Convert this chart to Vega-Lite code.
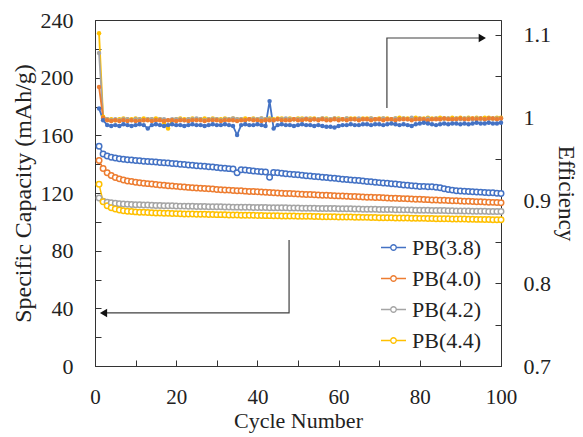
{
"$schema":"https://vega.github.io/schema/vega-lite/v6.json",
"width":406,"height":346,"autosize":{"type":"none"},
"padding":{"left":95,"top":20,"right":82,"bottom":71},
"background":"white",
"config":{"font":"Liberation Serif","view":{"stroke":"#333","strokeWidth":1},
"axis":{"grid":false,"domainColor":"#333","tickColor":"#333","labelColor":"#222","titleColor":"#222","labelFontSize":22,"titleFontSize":22,"titleFontWeight":"normal","labelFont":"Liberation Serif","titleFont":"Liberation Serif","tickSize":-6,"labelPadding":28,"labelOverlap":false,"labelBound":false,"labelFlush":false}},
"datasets":{
"d":[
{"c":1,"a1":152.5,"a2":142.5,"a3":116.5,"a4":126.0,"e1":1.011,"e2":1.037,"e3":1.078,"e4":1.102},
{"c":2,"a1":147.0,"a2":137.0,"a3":114.3,"a4":114.0,"e1":0.997,"e2":1.000,"e3":0.999,"e4":1.001},
{"c":3,"a1":145.6,"a2":134.0,"a3":113.6,"a4":111.2,"e1":0.991,"e2":0.997,"e3":0.998,"e4":0.998},
{"c":4,"a1":144.8,"a2":132.2,"a3":113.2,"a4":109.8,"e1":0.990,"e2":0.996,"e3":0.997,"e4":0.998},
{"c":5,"a1":144.2,"a2":130.8,"a3":112.9,"a4":108.9,"e1":0.991,"e2":0.997,"e3":0.998,"e4":0.997},
{"c":6,"a1":143.8,"a2":129.8,"a3":112.6,"a4":108.2,"e1":0.990,"e2":0.996,"e3":0.997,"e4":0.998},
{"c":7,"a1":143.4,"a2":129.0,"a3":112.4,"a4":107.7,"e1":0.992,"e2":0.997,"e3":0.998,"e4":0.999},
{"c":8,"a1":143.1,"a2":128.4,"a3":112.2,"a4":107.4,"e1":0.991,"e2":0.996,"e3":0.998,"e4":0.998},
{"c":9,"a1":142.9,"a2":127.9,"a3":112.1,"a4":107.1,"e1":0.990,"e2":0.997,"e3":0.997,"e4":0.998},
{"c":10,"a1":142.6,"a2":127.5,"a3":111.9,"a4":106.9,"e1":0.991,"e2":0.996,"e3":0.998,"e4":0.999},
{"c":11,"a1":142.4,"a2":127.1,"a3":111.8,"a4":106.7,"e1":0.992,"e2":0.996,"e3":0.998,"e4":0.998},
{"c":12,"a1":142.1,"a2":126.8,"a3":111.7,"a4":106.6,"e1":0.991,"e2":0.997,"e3":0.997,"e4":0.999},
{"c":13,"a1":141.9,"a2":126.5,"a3":111.6,"a4":106.4,"e1":0.987,"e2":0.997,"e3":0.998,"e4":0.998},
{"c":14,"a1":141.7,"a2":126.2,"a3":111.5,"a4":106.3,"e1":0.991,"e2":0.996,"e3":0.998,"e4":0.998},
{"c":15,"a1":141.5,"a2":125.9,"a3":111.4,"a4":106.2,"e1":0.992,"e2":0.997,"e3":0.997,"e4":0.999},
{"c":16,"a1":141.2,"a2":125.6,"a3":111.3,"a4":106.1,"e1":0.991,"e2":0.997,"e3":0.998,"e4":0.998},
{"c":17,"a1":141.0,"a2":125.4,"a3":111.2,"a4":106.0,"e1":0.990,"e2":0.996,"e3":0.998,"e4":0.994},
{"c":18,"a1":140.8,"a2":125.1,"a3":111.2,"a4":105.9,"e1":0.991,"e2":0.997,"e3":0.997,"e4":0.987},
{"c":19,"a1":140.5,"a2":124.9,"a3":111.1,"a4":105.8,"e1":0.992,"e2":0.997,"e3":0.998,"e4":0.997},
{"c":20,"a1":140.3,"a2":124.6,"a3":111.0,"a4":105.7,"e1":0.991,"e2":0.996,"e3":0.998,"e4":0.998},
{"c":21,"a1":140.0,"a2":124.4,"a3":110.9,"a4":105.6,"e1":0.991,"e2":0.997,"e3":0.998,"e4":0.999},
{"c":22,"a1":139.8,"a2":124.1,"a3":110.9,"a4":105.5,"e1":0.990,"e2":0.997,"e3":0.997,"e4":0.998},
{"c":23,"a1":139.4,"a2":123.9,"a3":110.8,"a4":105.5,"e1":0.991,"e2":0.996,"e3":0.998,"e4":0.998},
{"c":24,"a1":139.2,"a2":123.7,"a3":110.8,"a4":105.4,"e1":0.992,"e2":0.997,"e3":0.998,"e4":0.999},
{"c":25,"a1":138.9,"a2":123.5,"a3":110.7,"a4":105.3,"e1":0.991,"e2":0.997,"e3":0.999,"e4":0.998},
{"c":26,"a1":138.7,"a2":123.3,"a3":110.6,"a4":105.3,"e1":0.991,"e2":0.997,"e3":0.998,"e4":0.998},
{"c":27,"a1":138.5,"a2":123.1,"a3":110.6,"a4":105.2,"e1":0.990,"e2":0.996,"e3":0.997,"e4":0.999},
{"c":28,"a1":138.2,"a2":122.9,"a3":110.5,"a4":105.1,"e1":0.991,"e2":0.997,"e3":0.998,"e4":0.998},
{"c":29,"a1":138.0,"a2":122.7,"a3":110.5,"a4":105.1,"e1":0.992,"e2":0.997,"e3":0.998,"e4":0.999},
{"c":30,"a1":137.7,"a2":122.5,"a3":110.4,"a4":105.0,"e1":0.991,"e2":0.997,"e3":0.998,"e4":0.998},
{"c":31,"a1":137.4,"a2":122.3,"a3":110.4,"a4":105.0,"e1":0.991,"e2":0.996,"e3":0.997,"e4":0.998},
{"c":32,"a1":137.2,"a2":122.1,"a3":110.3,"a4":104.9,"e1":0.992,"e2":0.997,"e3":0.998,"e4":0.999},
{"c":33,"a1":136.9,"a2":122.0,"a3":110.3,"a4":104.8,"e1":0.991,"e2":0.997,"e3":0.998,"e4":0.998},
{"c":34,"a1":136.6,"a2":121.8,"a3":110.2,"a4":104.8,"e1":0.990,"e2":0.997,"e3":0.999,"e4":0.999},
{"c":35,"a1":134.0,"a2":121.6,"a3":110.2,"a4":104.7,"e1":0.979,"e2":0.996,"e3":0.998,"e4":0.998},
{"c":36,"a1":136.2,"a2":121.5,"a3":110.1,"a4":104.6,"e1":0.991,"e2":0.997,"e3":0.998,"e4":0.998},
{"c":37,"a1":136.0,"a2":121.3,"a3":110.1,"a4":104.6,"e1":0.992,"e2":0.997,"e3":0.997,"e4":0.999},
{"c":38,"a1":135.6,"a2":121.1,"a3":110.1,"a4":104.5,"e1":0.991,"e2":0.998,"e3":0.998,"e4":0.998},
{"c":39,"a1":135.3,"a2":121.0,"a3":110.0,"a4":104.5,"e1":0.991,"e2":0.997,"e3":0.998,"e4":0.999},
{"c":40,"a1":135.0,"a2":120.8,"a3":110.0,"a4":104.4,"e1":0.992,"e2":0.997,"e3":0.998,"e4":0.998},
{"c":41,"a1":134.8,"a2":120.7,"a3":109.9,"a4":104.4,"e1":0.991,"e2":0.996,"e3":0.999,"e4":0.999},
{"c":42,"a1":134.6,"a2":120.5,"a3":109.9,"a4":104.3,"e1":0.990,"e2":0.997,"e3":0.998,"e4":0.998},
{"c":43,"a1":131.0,"a2":120.3,"a3":109.8,"a4":104.3,"e1":1.020,"e2":0.997,"e3":0.998,"e4":0.999},
{"c":44,"a1":134.2,"a2":120.2,"a3":109.8,"a4":104.2,"e1":0.987,"e2":0.997,"e3":0.997,"e4":0.998},
{"c":45,"a1":134.0,"a2":120.0,"a3":109.8,"a4":104.2,"e1":0.991,"e2":0.998,"e3":0.998,"e4":0.999},
{"c":46,"a1":133.7,"a2":119.9,"a3":109.7,"a4":104.1,"e1":0.992,"e2":0.997,"e3":0.998,"e4":0.999},
{"c":47,"a1":133.4,"a2":119.7,"a3":109.7,"a4":104.1,"e1":0.991,"e2":0.997,"e3":0.999,"e4":0.998},
{"c":48,"a1":133.1,"a2":119.6,"a3":109.6,"a4":104.0,"e1":0.991,"e2":0.997,"e3":0.998,"e4":0.999},
{"c":49,"a1":132.9,"a2":119.5,"a3":109.6,"a4":104.0,"e1":0.990,"e2":0.998,"e3":0.998,"e4":0.998},
{"c":50,"a1":132.6,"a2":119.3,"a3":109.6,"a4":103.9,"e1":0.991,"e2":0.997,"e3":0.998,"e4":0.999},
{"c":51,"a1":132.3,"a2":119.2,"a3":109.5,"a4":103.9,"e1":0.992,"e2":0.997,"e3":0.998,"e4":0.999},
{"c":52,"a1":132.0,"a2":119.0,"a3":109.5,"a4":103.8,"e1":0.991,"e2":0.998,"e3":0.999,"e4":0.998},
{"c":53,"a1":131.8,"a2":118.9,"a3":109.4,"a4":103.8,"e1":0.991,"e2":0.997,"e3":0.998,"e4":0.999},
{"c":54,"a1":131.5,"a2":118.8,"a3":109.4,"a4":103.7,"e1":0.990,"e2":0.998,"e3":0.998,"e4":0.999},
{"c":55,"a1":131.2,"a2":118.6,"a3":109.3,"a4":103.7,"e1":0.991,"e2":0.997,"e3":0.998,"e4":0.998},
{"c":56,"a1":131.0,"a2":118.5,"a3":109.3,"a4":103.6,"e1":0.990,"e2":0.998,"e3":0.999,"e4":0.999},
{"c":57,"a1":130.7,"a2":118.4,"a3":109.3,"a4":103.6,"e1":0.989,"e2":0.997,"e3":0.998,"e4":0.999},
{"c":58,"a1":130.4,"a2":118.3,"a3":109.2,"a4":103.5,"e1":0.989,"e2":0.997,"e3":0.998,"e4":0.998},
{"c":59,"a1":130.2,"a2":118.1,"a3":109.2,"a4":103.5,"e1":0.988,"e2":0.998,"e3":0.999,"e4":0.999},
{"c":60,"a1":129.9,"a2":118.0,"a3":109.1,"a4":103.4,"e1":0.990,"e2":0.997,"e3":0.998,"e4":0.999},
{"c":61,"a1":129.6,"a2":117.9,"a3":109.1,"a4":103.4,"e1":0.991,"e2":0.998,"e3":0.998,"e4":0.998},
{"c":62,"a1":129.4,"a2":117.7,"a3":109.0,"a4":103.3,"e1":0.991,"e2":0.997,"e3":0.999,"e4":0.999},
{"c":63,"a1":129.1,"a2":117.6,"a3":109.0,"a4":103.3,"e1":0.992,"e2":0.998,"e3":0.998,"e4":0.999},
{"c":64,"a1":128.8,"a2":117.5,"a3":108.9,"a4":103.2,"e1":0.991,"e2":0.998,"e3":0.998,"e4":0.999},
{"c":65,"a1":128.6,"a2":117.4,"a3":108.9,"a4":103.2,"e1":0.991,"e2":0.997,"e3":0.999,"e4":0.998},
{"c":66,"a1":128.3,"a2":117.3,"a3":108.8,"a4":103.1,"e1":0.992,"e2":0.998,"e3":0.998,"e4":0.999},
{"c":67,"a1":128.0,"a2":117.1,"a3":108.8,"a4":103.1,"e1":0.992,"e2":0.998,"e3":0.998,"e4":0.999},
{"c":68,"a1":127.8,"a2":117.0,"a3":108.7,"a4":103.0,"e1":0.991,"e2":0.997,"e3":0.999,"e4":0.999},
{"c":69,"a1":127.5,"a2":116.9,"a3":108.7,"a4":103.0,"e1":0.992,"e2":0.998,"e3":0.998,"e4":0.998},
{"c":70,"a1":127.2,"a2":116.8,"a3":108.6,"a4":102.9,"e1":0.992,"e2":0.998,"e3":0.998,"e4":0.999},
{"c":71,"a1":127.0,"a2":116.7,"a3":108.6,"a4":102.9,"e1":0.991,"e2":0.997,"e3":0.999,"e4":0.999},
{"c":72,"a1":126.7,"a2":116.5,"a3":108.5,"a4":102.8,"e1":0.992,"e2":0.998,"e3":0.998,"e4":0.999},
{"c":73,"a1":126.4,"a2":116.4,"a3":108.5,"a4":102.8,"e1":0.993,"e2":0.998,"e3":0.998,"e4":0.998},
{"c":74,"a1":126.2,"a2":116.3,"a3":108.4,"a4":102.7,"e1":0.992,"e2":0.997,"e3":0.999,"e4":0.999},
{"c":75,"a1":125.9,"a2":116.2,"a3":108.4,"a4":102.7,"e1":0.991,"e2":0.998,"e3":0.998,"e4":1.000},
{"c":76,"a1":125.6,"a2":116.1,"a3":108.3,"a4":102.6,"e1":0.992,"e2":0.998,"e3":0.999,"e4":0.999},
{"c":77,"a1":125.3,"a2":116.0,"a3":108.3,"a4":102.6,"e1":0.991,"e2":0.998,"e3":0.998,"e4":0.999},
{"c":78,"a1":125.1,"a2":115.8,"a3":108.2,"a4":102.5,"e1":0.990,"e2":0.997,"e3":1.000,"e4":0.999},
{"c":79,"a1":124.8,"a2":115.7,"a3":108.1,"a4":102.5,"e1":0.992,"e2":0.998,"e3":0.998,"e4":1.000},
{"c":80,"a1":124.5,"a2":115.6,"a3":108.1,"a4":102.4,"e1":0.993,"e2":0.998,"e3":0.999,"e4":0.999},
{"c":81,"a1":124.6,"a2":115.5,"a3":108.0,"a4":102.4,"e1":0.994,"e2":0.998,"e3":0.998,"e4":0.999},
{"c":82,"a1":124.4,"a2":115.4,"a3":108.0,"a4":102.3,"e1":0.993,"e2":0.997,"e3":0.999,"e4":1.000},
{"c":83,"a1":124.3,"a2":115.2,"a3":107.9,"a4":102.3,"e1":0.992,"e2":0.998,"e3":0.998,"e4":0.999},
{"c":84,"a1":124.0,"a2":115.1,"a3":107.9,"a4":102.2,"e1":0.991,"e2":0.998,"e3":0.999,"e4":0.999},
{"c":85,"a1":123.6,"a2":115.0,"a3":107.8,"a4":102.2,"e1":0.992,"e2":0.998,"e3":0.998,"e4":1.000},
{"c":86,"a1":123.0,"a2":114.9,"a3":107.8,"a4":102.1,"e1":0.993,"e2":0.999,"e3":0.999,"e4":0.999},
{"c":87,"a1":122.5,"a2":114.8,"a3":107.7,"a4":102.1,"e1":0.992,"e2":0.998,"e3":0.999,"e4":0.999},
{"c":88,"a1":122.0,"a2":114.7,"a3":107.7,"a4":102.0,"e1":0.993,"e2":0.998,"e3":0.998,"e4":1.000},
{"c":89,"a1":121.6,"a2":114.6,"a3":107.6,"a4":102.0,"e1":0.993,"e2":0.998,"e3":0.999,"e4":0.999},
{"c":90,"a1":121.4,"a2":114.5,"a3":107.6,"a4":101.9,"e1":0.992,"e2":0.999,"e3":0.998,"e4":1.000},
{"c":91,"a1":121.2,"a2":114.3,"a3":107.5,"a4":101.9,"e1":0.993,"e2":0.998,"e3":0.999,"e4":0.999},
{"c":92,"a1":121.0,"a2":114.2,"a3":107.5,"a4":101.8,"e1":0.992,"e2":0.998,"e3":0.999,"e4":1.000},
{"c":93,"a1":120.9,"a2":114.1,"a3":107.4,"a4":101.8,"e1":0.993,"e2":0.999,"e3":0.998,"e4":0.999},
{"c":94,"a1":120.7,"a2":114.0,"a3":107.4,"a4":101.7,"e1":0.994,"e2":0.998,"e3":0.999,"e4":1.000},
{"c":95,"a1":120.6,"a2":113.9,"a3":107.3,"a4":101.7,"e1":0.993,"e2":0.999,"e3":0.999,"e4":0.999},
{"c":96,"a1":120.4,"a2":113.8,"a3":107.3,"a4":101.6,"e1":0.993,"e2":0.998,"e3":0.998,"e4":1.000},
{"c":97,"a1":120.2,"a2":113.6,"a3":107.2,"a4":101.6,"e1":0.994,"e2":0.999,"e3":0.999,"e4":1.000},
{"c":98,"a1":120.1,"a2":113.5,"a3":107.2,"a4":101.5,"e1":0.993,"e2":0.999,"e3":0.999,"e4":0.999},
{"c":99,"a1":119.9,"a2":113.4,"a3":107.1,"a4":101.5,"e1":0.993,"e2":0.998,"e3":0.999,"e4":1.000},
{"c":100,"a1":119.7,"a2":113.3,"a3":107.1,"a4":101.4,"e1":0.994,"e2":0.999,"e3":0.999,"e4":1.000}
],
"arr":[
{"g":"A","o":1,"c":71.9,"v":179.0},{"g":"A","o":2,"c":71.9,"v":227.5},{"g":"A","o":3,"c":95.4,"v":227.5},
{"g":"B","o":1,"c":47.8,"v":87.4},{"g":"B","o":2,"c":47.8,"v":36.8},{"g":"B","o":3,"c":2.1,"v":36.8}
],
"heads":[{"d":"right","c":95.4,"v":227.5},{"d":"left","c":2.1,"v":36.8}]
},
"data":{"name":"d"},
"layer":[
{
"transform":[{"fold":["a1","a2","a3","a4"],"as":["k","cap"]}],
"encoding":{
"x":{"field":"c","type":"quantitative","scale":{"domain":[0,100],"nice":false},"axis":{"values":[0,10,20,30,40,50,60,70,80,90,100],"labelExpr":"datum.value % 20 == 0 ? datum.label : ''","title":"Cycle Number","titlePadding":3,"labelPadding":26,"labelFontSize":21}},
"y":{"field":"cap","type":"quantitative","scale":{"domain":[0,240],"nice":false},"axis":{"orient":"left","values":[0,20,40,60,80,100,120,140,160,180,200,220,240],"labelExpr":"datum.value % 40 == 0 ? datum.label : ''","title":"Specific Capacity (mAh/g)","titleFontSize":24,"titlePadding":5}},
"color":{"field":"k","type":"nominal","scale":{"domain":["a1","a2","a3","a4"],"range":["#4472C4","#ED7D31","#A5A5A5","#FFC000"]},
"legend":{"orient":"none","legendX":285,"legendY":214,"title":null,"symbolType":"M-1,0H-0.22M0.22,0H1M0.22,0A0.22,0.22,0,1,1,-0.22,0A0.22,0.22,0,1,1,0.22,0","symbolSize":625,"symbolStrokeWidth":1.3,"symbolFillColor":"white","labelFontSize":22,"labelFont":"Liberation Serif","labelColor":"#222","labelOffset":5,"rowPadding":6,"padding":0,
"labelExpr":"datum.label=='a1'?'PB(3.8)':datum.label=='a2'?'PB(4.0)':datum.label=='a3'?'PB(4.2)':'PB(4.4)'"}}
},
"layer":[
{"mark":{"type":"line","strokeWidth":1.5}},
{"mark":{"type":"point","filled":false,"fill":"white","size":30,"strokeWidth":1.5,"opacity":1}}
]
},
{
"transform":[{"fold":["e4","e3","e2","e1"],"as":["k","eff"]}],
"encoding":{
"x":{"field":"c","type":"quantitative"},
"y":{"field":"eff","type":"quantitative","scale":{"domain":[0.7,1.118],"nice":false,"zero":false},"axis":{"orient":"right","values":[0.7,0.75,0.8,0.85,0.9,0.95,1,1.05,1.1],"labelExpr":"round(datum.value*100) % 10 == 0 ? format(datum.value, '~g') : ''","title":"Efficiency","titleFontSize":23,"titlePadding":3}},
"color":{"field":"k","type":"nominal","scale":{"domain":["e4","e3","e2","e1"],"range":["#FFC000","#A5A5A5","#ED7D31","#4472C4"]},"legend":null}
},
"layer":[
{"mark":{"type":"line","strokeWidth":1.8}},
{"mark":{"type":"point","filled":true,"size":20,"opacity":1}}
]
},
{
"data":{"name":"arr"},
"mark":{"type":"line","color":"#404040","strokeWidth":1.2},
"encoding":{
"x":{"field":"c","type":"quantitative"},
"y":{"field":"v","type":"quantitative","scale":{"domain":[0,240],"nice":false},"axis":null},
"detail":{"field":"g"},
"order":{"field":"o"}
}
},
{
"data":{"name":"heads"},
"mark":{"type":"point","filled":true,"color":"#111","size":70,"opacity":1},
"encoding":{
"x":{"field":"c","type":"quantitative"},
"y":{"field":"v","type":"quantitative","scale":{"domain":[0,240],"nice":false},"axis":null},
"shape":{"field":"d","type":"nominal","scale":{"domain":["right","left"],"range":["triangle-right","triangle-left"]},"legend":null}
}
}
],
"resolve":{"scale":{"y":"independent","color":"independent","shape":"independent"}}
}
